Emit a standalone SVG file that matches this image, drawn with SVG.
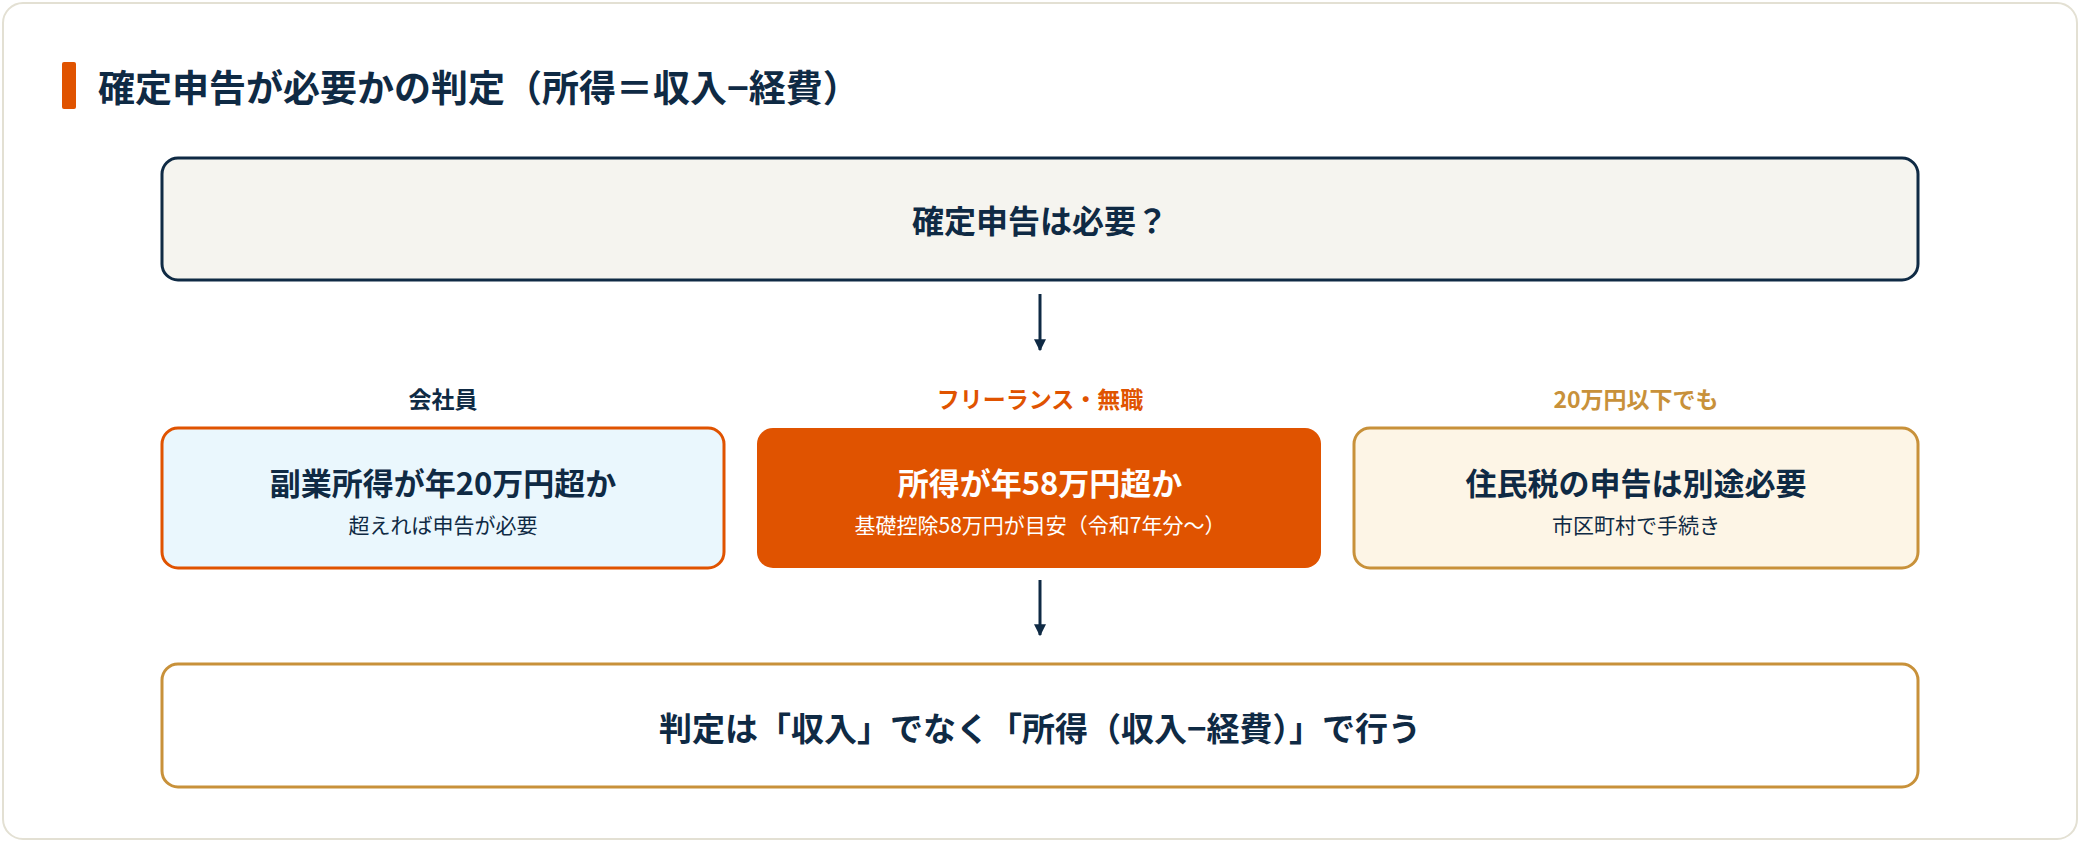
<svg xmlns="http://www.w3.org/2000/svg" width="2080" height="842" viewBox="0 0 2080 842">
<style>
text{font-family:"Noto Sans CJK JP","Noto Sans",sans-serif;font-weight:700;text-anchor:middle;dominant-baseline:central}
.n{fill:#0f2a44}.o{fill:#e05300}.g{fill:#c8913a}.w{fill:#fff}
.sub{font-weight:400;font-size:21px}
</style>
<defs><marker id="ah" viewBox="0 0 10 10" refX="9" refY="5" markerWidth="4" markerHeight="4" orient="auto"><path d="M0,0L10,5L0,10z" fill="#0f2a44"/></marker></defs>
<rect x="3" y="3" width="2074" height="836" rx="20" fill="#fff" stroke="#e3e0d3" stroke-width="2"/>
<g id="title"><rect x="62" y="62" width="14" height="47" rx="2" fill="#e05300"/>
<text x="98" y="86" class="n" style="text-anchor:start;font-size:37px">確定申告が必要かの判定（所得＝収入−経費）</text></g>
<g id="connectors" stroke="#0f2a44" stroke-width="3" fill="none">
<line x1="1040" y1="294" x2="1040" y2="350" marker-end="url(#ah)"/>
<line x1="1040" y1="580" x2="1040" y2="635" marker-end="url(#ah)"/>
</g>
<g id="top"><rect x="162" y="158" width="1756" height="122" rx="16" fill="#f5f4ef" stroke="#0f2a44" stroke-width="3"/>
<text x="1040" y="219" class="n" style="font-size:32px">確定申告は必要？</text></g>
<g id="employee"><text x="443" y="398" class="n" style="font-size:23px">会社員</text>
<rect x="162" y="428" width="562" height="140" rx="16" fill="#eaf7fd" stroke="#e05300" stroke-width="3"/>
<text x="443" y="481" class="n" style="font-size:31px">副業所得が年20万円超か</text>
<text x="443" y="524" class="n sub">超えれば申告が必要</text></g>
<g id="freelance"><text x="1040" y="398" class="o" style="font-size:23px">フリーランス・無職</text>
<rect x="757" y="428" width="564" height="140" rx="16" fill="#e05300"/>
<text x="1040" y="481" class="w" style="font-size:31px">所得が年58万円超か</text>
<text x="1040" y="524" class="w sub">基礎控除58万円が目安（令和7年分〜）</text></g>
<g id="resident"><text x="1636" y="398" class="g" style="font-size:23px">20万円以下でも</text>
<rect x="1354" y="428" width="564" height="140" rx="16" fill="#fdf5e6" stroke="#c8913a" stroke-width="3"/>
<text x="1636" y="481" class="n" style="font-size:31px">住民税の申告は別途必要</text>
<text x="1636" y="524" class="n sub">市区町村で手続き</text></g>
<g id="bottom"><rect x="162" y="664" width="1756" height="123" rx="16" fill="#fff" stroke="#c8913a" stroke-width="3"/>
<text x="1040" y="727" class="n" style="font-size:33px">判定は「収入」でなく「所得（収入−経費）」で行う</text></g>
</svg>
